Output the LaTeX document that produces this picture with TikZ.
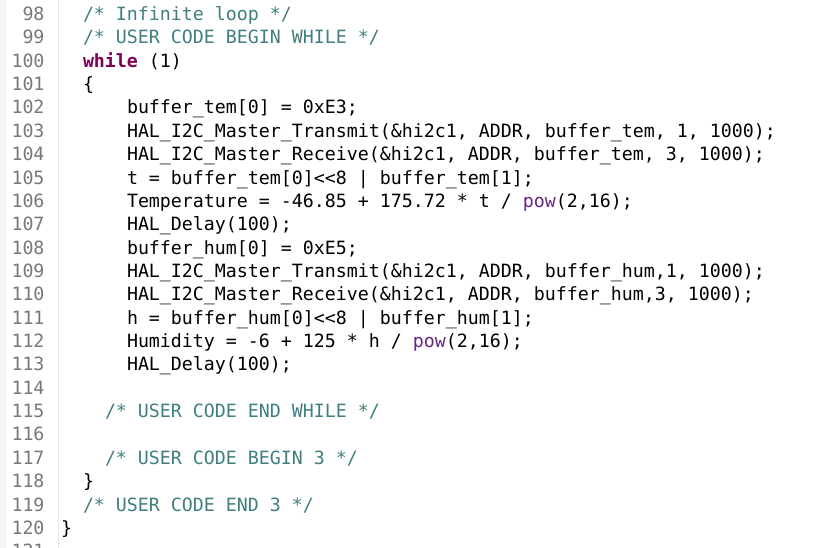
\documentclass[tikz,border=0pt]{standalone}
\usepackage{fontspec}
\setmonofont{DejaVu Sans Mono}
\definecolor{cmt}{HTML}{3F7F7F}
\definecolor{kw}{HTML}{7F0055}
\definecolor{fn}{HTML}{642880}
\definecolor{lnc}{HTML}{787878}
\definecolor{gut}{HTML}{E6E6E6}
\newcommand{\kwd}[1]{{\color{kw}\bfseries #1}}
\newcommand{\fnc}[1]{{\color{fn}#1}}
\begin{document}
\begin{tikzpicture}[x=1pt,y=-1pt,
  base/.style={inner sep=0pt,outer sep=0pt,font=\ttfamily\fontsize{18.27}{23}\selectfont},
  code/.style={base,anchor=base west,text=black},
  cmtline/.style={base,anchor=base west,text=cmt},
  lnum/.style={base,anchor=base east,text=lnc}]
\useasboundingbox (0,0) rectangle (827,548);
\clip (0,0) rectangle (827,548);
\fill[white] (0,0) rectangle (827,548);
\fill[black!4] (0,0) rectangle (6,548);
\draw[gut,line width=1pt] (58,0) -- (58,548);
% line numbers
\foreach \n [count=\i from 0] in {98,...,121}{
  \node[lnum] (n\n) at (44.5,{20.5+23.36*\i}) {\n};
}
\def\cA{83}\def\cB{105}\def\cC{127}\def\cZ{61}
\node[cmtline] (l98) at (\cA,20.5) {/* Infinite loop */};
\node[cmtline] (l99) at (\cA,43.86) {/* USER CODE BEGIN WHILE */};
\node[code] (l100) at (\cA,67.22) {\kwd{while} (1)};
\node[code] (l101) at (\cA,90.58) {\{};
\node[code] (l102) at (\cC,113.94) {buffer\_tem[0] = 0xE3;};
\node[code] (l103) at (\cC,137.30) {HAL\_I2C\_Master\_Transmit(\&hi2c1, ADDR, buffer\_tem, 1, 1000);};
\node[code] (l104) at (\cC,160.66) {HAL\_I2C\_Master\_Receive(\&hi2c1, ADDR, buffer\_tem, 3, 1000);};
\node[code] (l105) at (\cC,184.02) {t = buffer\_tem[0]<{}<8 | buffer\_tem[1];};
\node[code] (l106) at (\cC,207.38) {Temperature = -46.85 + 175.72 * t / \fnc{pow}(2,16);};
\node[code] (l107) at (\cC,230.74) {HAL\_Delay(100);};
\node[code] (l108) at (\cC,254.10) {buffer\_hum[0] = 0xE5;};
\node[code] (l109) at (\cC,277.46) {HAL\_I2C\_Master\_Transmit(\&hi2c1, ADDR, buffer\_hum,1, 1000);};
\node[code] (l110) at (\cC,300.82) {HAL\_I2C\_Master\_Receive(\&hi2c1, ADDR, buffer\_hum,3, 1000);};
\node[code] (l111) at (\cC,324.18) {h = buffer\_hum[0]<{}<8 | buffer\_hum[1];};
\node[code] (l112) at (\cC,347.54) {Humidity = -6 + 125 * h / \fnc{pow}(2,16);};
\node[code] (l113) at (\cC,370.90) {HAL\_Delay(100);};
\node[cmtline] (l115) at (\cB,417.62) {/* USER CODE END WHILE */};
\node[cmtline] (l117) at (\cB,464.34) {/* USER CODE BEGIN 3 */};
\node[code] (l118) at (\cA,487.70) {\}};
\node[cmtline] (l119) at (\cA,511.06) {/* USER CODE END 3 */};
\node[code] (l120) at (\cZ,534.42) {\}};
\end{tikzpicture}
\end{document}
